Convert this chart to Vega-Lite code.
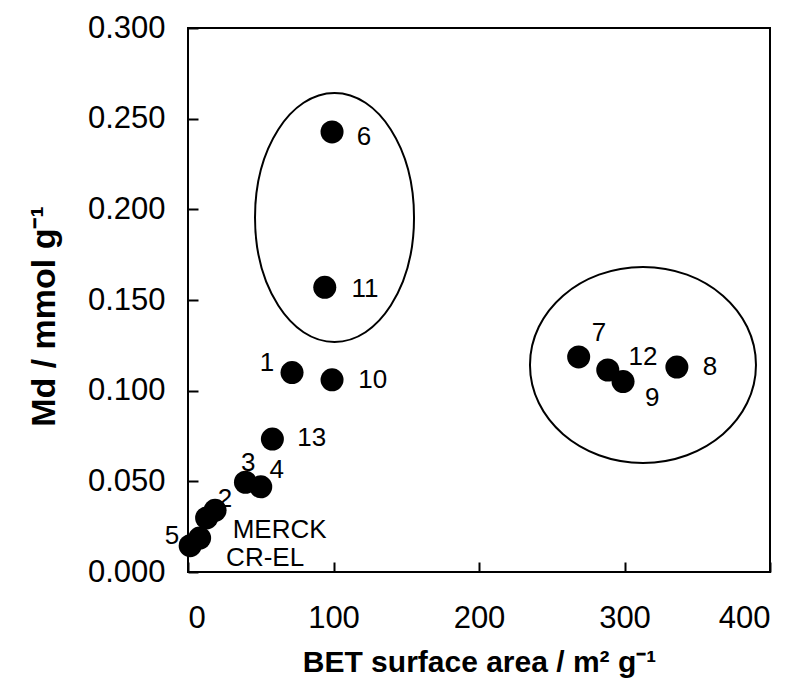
{
  "$schema": "https://vega.github.io/schema/vega-lite/v6.json",
  "autosize": {"type": "none"},
  "width": 582,
  "height": 544,
  "padding": {"left": 188, "top": 28, "right": 30, "bottom": 115},
  "background": "white",
  "config": {
    "view": {"stroke": "black", "strokeWidth": 2},
    "font": "Liberation Sans",
    "axis": {
      "grid": false,
      "domain": false,
      "offset": -10,
      "tickColor": "black",
      "tickWidth": 2,
      "tickSize": 10,
      "labelColor": "black",
      "labelFont": "Liberation Sans",
      "labelFontSize": 31,
      "titleColor": "black",
      "titleFont": "Liberation Sans",
      "titleFontWeight": "bold"
    }
  },
  "datasets": {
    "points": [
      {"id": "1", "bet": 71.5, "md": 0.110},
      {"id": "2", "bet": 18.6, "md": 0.034},
      {"id": "3", "bet": 39.5, "md": 0.0495},
      {"id": "4", "bet": 50, "md": 0.047},
      {"id": "5", "bet": 1.5, "md": 0.0145},
      {"id": "6", "bet": 99, "md": 0.2427},
      {"id": "7", "bet": 268.5, "md": 0.1186},
      {"id": "8", "bet": 336, "md": 0.113},
      {"id": "9", "bet": 299, "md": 0.105},
      {"id": "10", "bet": 99, "md": 0.106},
      {"id": "11", "bet": 94, "md": 0.157},
      {"id": "12", "bet": 288.5, "md": 0.1114},
      {"id": "13", "bet": 58, "md": 0.0733},
      {"id": "MERCK", "bet": 12.8, "md": 0.0298},
      {"id": "CR-EL", "bet": 8, "md": 0.0187}
    ],
    "labels": [
      {"label": "6", "bet": 121, "md": 0.240},
      {"label": "11", "bet": 121.6, "md": 0.156},
      {"label": "1", "bet": 54.3, "md": 0.115},
      {"label": "10", "bet": 127, "md": 0.106},
      {"label": "13", "bet": 85, "md": 0.074},
      {"label": "3", "bet": 41.4, "md": 0.060},
      {"label": "4", "bet": 61, "md": 0.056},
      {"label": "2", "bet": 25.4, "md": 0.040},
      {"label": "5", "bet": -11, "md": 0.020},
      {"label": "MERCK", "bet": 63, "md": 0.023},
      {"label": "CR-EL", "bet": 53, "md": 0.0077},
      {"label": "7", "bet": 282.5, "md": 0.132},
      {"label": "12", "bet": 312.7, "md": 0.1186},
      {"label": "9", "bet": 319, "md": 0.096},
      {"label": "8", "bet": 358.8, "md": 0.113}
    ],
    "groups": [
      {"group": "high Md", "bet": 100.7, "md": 0.1955},
      {"group": "high BET", "bet": 312.7, "md": 0.1142}
    ]
  },
  "encoding": {
    "x": {
      "field": "bet",
      "type": "quantitative",
      "scale": {"domain": [0, 400], "nice": false, "zero": false},
      "axis": {
        "title": "BET surface area / m² g⁻¹",
        "titleFontSize": 30,
        "values": [0, 100, 200, 300, 400],
        "format": "d",
        "labelPadding": 31,
        "titlePadding": 14
      }
    },
    "y": {
      "field": "md",
      "type": "quantitative",
      "scale": {"domain": [0, 0.3], "nice": false, "zero": false},
      "axis": {
        "title": "Md / mmol g⁻¹",
        "titleFontSize": 34,
        "titleY": 288,
        "values": [0, 0.05, 0.1, 0.15, 0.2, 0.25, 0.3],
        "format": ".3f",
        "labelPadding": 23,
        "titlePadding": 26
      }
    }
  },
  "layer": [
    {
      "data": {"name": "groups"},
      "transform": [{"filter": "datum.group === 'high Md'"}],
      "mark": {
        "type": "point",
        "filled": false,
        "stroke": "black",
        "strokeWidth": 2,
        "opacity": 1,
        "size": 62001,
        "shape": "M0,-1C0.3527,-1,0.6386,-0.5523,0.6386,0C0.6386,0.5523,0.3527,1,0,1C-0.3527,1,-0.6386,0.5523,-0.6386,0C-0.6386,-0.5523,-0.3527,-1,0,-1Z"
      }
    },
    {
      "data": {"name": "groups"},
      "transform": [{"filter": "datum.group === 'high BET'"}],
      "mark": {
        "type": "point",
        "filled": false,
        "stroke": "black",
        "strokeWidth": 2,
        "opacity": 1,
        "size": 51076,
        "shape": "M-1,0C-1,-0.4788,-0.5523,-0.867,0,-0.867C0.5523,-0.867,1,-0.4788,1,0C1,0.4788,0.5523,0.867,0,0.867C-0.5523,0.867,-1,0.4788,-1,0Z"
      }
    },
    {
      "data": {"name": "points"},
      "mark": {"type": "circle", "color": "black", "opacity": 1, "size": 530}
    },
    {
      "data": {"name": "labels"},
      "mark": {
        "type": "text",
        "color": "black",
        "font": "Liberation Sans",
        "fontSize": 26,
        "align": "center",
        "baseline": "middle"
      },
      "encoding": {"text": {"field": "label"}}
    }
  ]
}
